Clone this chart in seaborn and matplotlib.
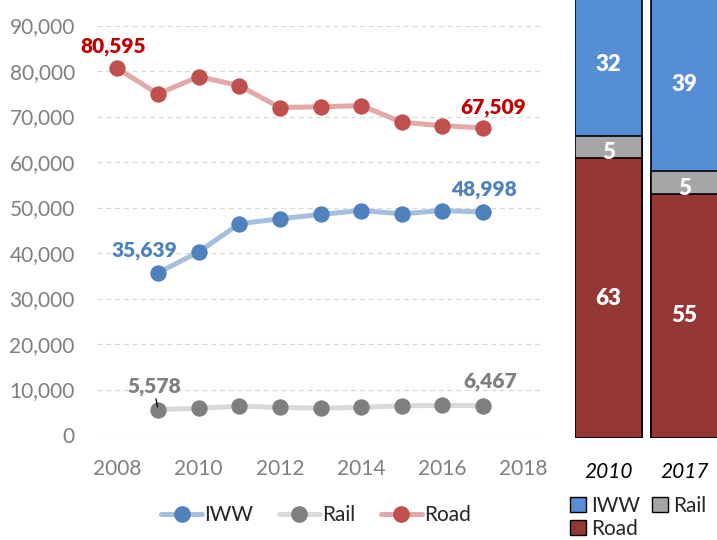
import matplotlib
matplotlib.use("Agg")
import matplotlib.pyplot as plt
from matplotlib.lines import Line2D
from matplotlib.patches import Patch
import seaborn as sns

# line chart data
years_road = [2008, 2009, 2010, 2011, 2012, 2013, 2014, 2015, 2016, 2017]
road = [80595, 74960, 78760, 76790, 71970, 72120, 72410, 68760, 67960, 67509]
years_other = [2009, 2010, 2011, 2012, 2013, 2014, 2015, 2016, 2017]
iww = [35639, 40220, 46420, 47520, 48470, 49340, 48610, 49340, 48998]
rail = [5578, 5840, 6350, 6060, 5910, 6060, 6420, 6500, 6467]

# modal split shares (%)
share_years = ["2010", "2017"]
share_road = [63, 55]
share_rail = [5, 5]
share_iww = [32, 39]

y_ticks = list(range(0, 90001, 10000))
x_ticks = [2008, 2010, 2012, 2014, 2016, 2018]

sns.set_style("white")
plt.rcParams["font.family"] = ["Lato", "DejaVu Sans"]

GREY = "#7F7F7F"
fig = plt.figure(figsize=(7.17, 5.4), dpi=100)

# ---- left: tonnage lines ----
ax = fig.add_axes([97 / 717, 105 / 540, 447 / 717, 409.5 / 540])
series = [
    ("IWW", years_other, iww, "#A7BFDD", "#4F81BD"),
    ("Rail", years_other, rail, "#D9D9D9", "#7F7F7F"),
    ("Road", years_road, road, "#E3A9A8", "#C0504D"),
]
handles = []
for name, xs, ys, lc, mc in series:
    sns.lineplot(x=xs, y=ys, ax=ax, color=lc, lw=3.6, marker="o", markersize=11,
                 markerfacecolor=mc, markeredgecolor=mc, zorder=3)
    handles.append(Line2D([0], [0], color=lc, lw=3.6, marker="o", markersize=11,
                          markerfacecolor=mc, markeredgecolor=mc, label=name))

ax.set_xlim(2007.5, 2018.5)
ax.set_ylim(0, 90000)
ax.set_yticks(y_ticks)
ax.set_yticklabels([f"{v:,}" for v in y_ticks])
ax.set_xticks(x_ticks)
ax.tick_params(axis="y", length=0, pad=16, labelsize=15, labelcolor=GREY)
ax.tick_params(axis="x", length=0, pad=17, labelsize=15, labelcolor=GREY)
ax.grid(axis="y", color="#D9D9D9", lw=0.9, ls=(0, (4, 3)))
ax.grid(axis="x", visible=False)
for s in ax.spines.values():
    s.set_visible(False)
ax.set_xlabel("")
ax.set_ylabel("")

# end-point labels
def label(x, y, dx, dy, color, leader=False):
    kw = {}
    if leader:
        kw["arrowprops"] = dict(arrowstyle="-", color="black", lw=0.9, shrinkA=8, shrinkB=2)
    ax.annotate(f"{y:,}", (x, y), xytext=(dx, dy), textcoords="offset points",
                ha="center", va="center", fontsize=15, fontweight="heavy", color=color, **kw)

label(years_road[0], road[0], -3, 16, "#C00000")
label(years_road[-1], road[-1], 7, 15, "#C00000")
label(years_other[0], iww[0], -10, 16, "#4F81BD")
label(years_other[-1], iww[-1], 1, 16.5, "#4F81BD")
label(years_other[0], rail[0], -3, 17, GREY, leader=True)
label(years_other[-1], rail[-1], 5, 17, GREY)

fig.legend(handles=handles, loc="center", bbox_to_anchor=(316 / 717, 1 - 515 / 540),
           ncol=3, frameon=False, fontsize=15, handlelength=2.0, handletextpad=0.1,
           columnspacing=1.2)

# ---- right: modal split stacked bars ----
bx = fig.add_axes([575 / 717, 102 / 540, 142 / 717, 438 / 540])
cum_rail = [r + l for r, l in zip(share_road, share_rail)]
cum_all = [c + i for c, i in zip(cum_rail, share_iww)]
for vals, col in [(cum_all, "#558ED5"), (cum_rail, "#A6A6A6"), (share_road, "#953735")]:
    sns.barplot(x=share_years, y=vals, ax=bx, color=col, saturation=1, width=0.88,
                edgecolor="black", linewidth=1.2)
bx.set_xlim(-0.441, 1.428)
bx.set_ylim(0, 98.6)
for i in range(len(share_years)):
    bx.text(i, share_road[i] / 2, str(share_road[i]), ha="center", va="center",
            color="white", fontsize=16, fontweight="heavy")
    bx.text(i, share_road[i] + share_rail[i] / 2 - 1.3, str(share_rail[i]), ha="center",
            va="center", color="white", fontsize=16, fontweight="heavy")
    bx.text(i, cum_rail[i] + share_iww[i] / 2, str(share_iww[i]), ha="center",
            va="center", color="white", fontsize=16, fontweight="heavy")
bx.set_yticks([])
bx.tick_params(axis="x", length=0, pad=17, labelsize=15, labelcolor="black")
for t in bx.get_xticklabels():
    t.set_fontstyle("italic")
for s in bx.spines.values():
    s.set_visible(False)
bx.set_xlabel("")
bx.set_ylabel("")

bar_handles = [
    Patch(facecolor="#558ED5", edgecolor="black", lw=1, label="IWW"),
    Patch(facecolor="#953735", edgecolor="black", lw=1, label="Road"),
    Patch(facecolor="#A6A6A6", edgecolor="black", lw=1, label="Rail"),
]
fig.legend(handles=bar_handles, loc="upper left", bbox_to_anchor=(570 / 717, 1 - 496 / 540),
           ncol=2, frameon=False, fontsize=15, borderpad=0, borderaxespad=0,
           handlelength=0.75, handleheight=0.75, handletextpad=0.25,
           columnspacing=0.6, labelspacing=0.15)

fig.savefig("out.png", dpi=100)
